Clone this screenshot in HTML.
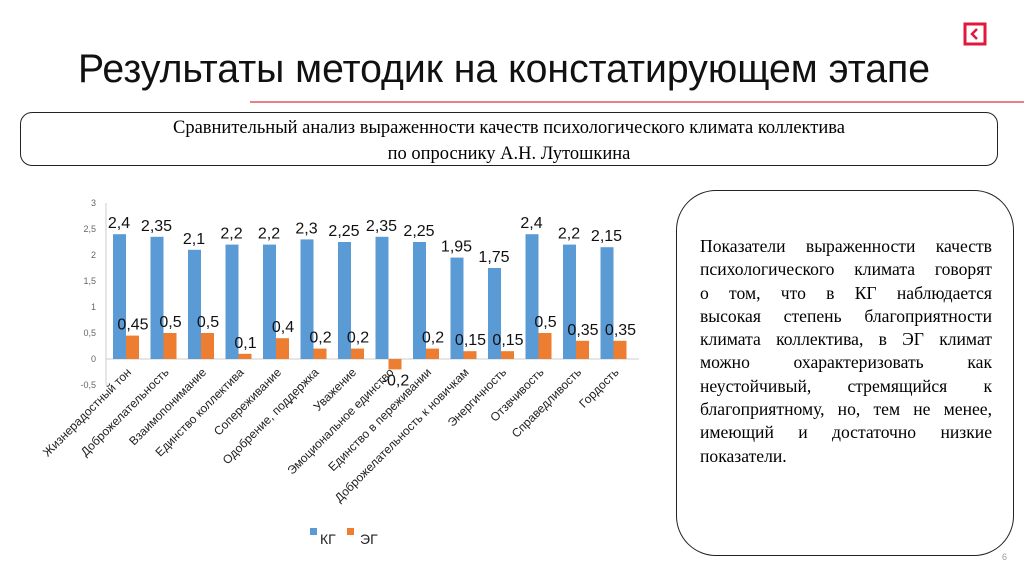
<!DOCTYPE html>
<html><head><meta charset="utf-8"><style>
body{margin:0;width:1024px;height:574px;background:#fff;overflow:hidden;position:relative;font-family:"Liberation Sans",sans-serif}
.box1{position:absolute;left:20px;top:112px;width:978px;height:54px;border:1.5px solid #222;border-radius:12px;font-family:"Liberation Serif",serif;font-size:18.5px;text-align:center;line-height:26px;padding-top:2px;box-sizing:border-box}
.box2{position:absolute;left:676px;top:190px;width:338px;height:366px;border:1.5px solid #222;border-radius:40px;box-sizing:border-box}
.box2 .t{position:absolute;left:23px;top:44px;width:292px;font-family:"Liberation Serif",serif;font-size:17.6px;line-height:23.3px;white-space:nowrap}
.box2 .t div{text-align:justify;text-align-last:justify}
.box2 .t div.last{text-align-last:left}
</style></head><body>
<svg width="1024" height="574" style="position:absolute;left:0;top:0">
<text x="78" y="82" font-family="'Liberation Sans Narrow','Liberation Sans',sans-serif" font-size="40" fill="#111" textLength="852" lengthAdjust="spacingAndGlyphs">Результаты методик на констатирующем этапе</text>
<line x1="250" y1="102" x2="1024" y2="102" stroke="#e03040" stroke-width="1.2"/>
<g><rect x="965" y="24" width="20" height="20" fill="none" stroke="#e0183c" stroke-width="3"/><path d="M977 29 L972 34 L977 39" fill="none" stroke="#e0183c" stroke-width="2.5"/></g>
<text x="1002" y="560" font-size="9" fill="#999">6</text>
<g id="chart"></g>
</svg>
<div class="box1">Сравнительный анализ выраженности качеств психологического климата коллектива<br>по опроснику А.Н. Лутошкина</div>
<div class="box2"><div class="t">
<div>Показатели выраженности качеств</div>
<div>психологического климата говорят</div>
<div>о том, что в КГ наблюдается</div>
<div>высокая степень благоприятности</div>
<div>климата коллектива, в ЭГ климат</div>
<div>можно охарактеризовать как</div>
<div>неустойчивый, стремящийся к</div>
<div>благоприятному, но, тем не менее,</div>
<div>имеющий и достаточно низкие</div>
<div class="last">показатели.</div>
</div></div>
<script>
const categories=["Жизнерадостный тон","Доброжелательность","Взаимопонимание","Единство коллектива","Сопереживание","Одобрение, поддержка","Уважение","Эмоциональное единство","Единство в переживании","Доброжелательность к новичкам","Энергичность","Отзвчивость","Справедливость","Гордость"];
const kgValues=[2.4,2.35,2.1,2.2,2.2,2.3,2.25,2.35,2.25,1.95,1.75,2.4,2.2,2.15];
const egValues=[0.45,0.5,0.5,0.1,0.4,0.2,0.2,-0.2,0.2,0.15,0.15,0.5,0.35,0.35];
const yTicks=[-0.5,0,0.5,1,1.5,2,2.5,3];
const NS="http://www.w3.org/2000/svg";
const g=document.getElementById("chart");
const x0=106,step=37.5;
const y=v=>359-v*52;
const fmt=v=>String(v).replace(".",",");
function mk(t,a,txt){const e=document.createElementNS(NS,t);for(const k in a)e.setAttribute(k,a[k]);if(txt!==undefined)e.textContent=txt;g.appendChild(e);return e;}
let e=mk("line",{x1:x0,y1:y(3),x2:x0,y2:y(-0.5),stroke:"#ccc"});


e=mk("line",{x1:x0,y1:y(0),x2:x0+step*categories.length+8,y2:y(0),stroke:"#ccc"});


yTicks.forEach(t=>{const el=mk("text",{x:96,y:y(t)+3,"text-anchor":"end","font-size":"9",fill:"#666"},fmt(t));

});
categories.forEach((c,i)=>{
const cx=x0+step*i;
const kv=kgValues[i],ev=egValues[i];
const b=mk("rect",{x:cx+7,y:Math.min(y(kv),y(0)),width:13,height:Math.abs(y(kv)-y(0)),fill:"#5b9bd5"});


const o=mk("rect",{x:cx+20,y:Math.min(y(ev),y(0)),width:13,height:Math.abs(y(ev)-y(0)),fill:"#ed7d31"});


const l1=mk("text",{x:cx+13,y:y(kv)-6,"text-anchor":"middle","font-size":"16",fill:"#111"},fmt(kv));


const ly=ev<0?y(ev)+16:y(ev)-6;
const l2=mk("text",{x:cx+27,y:ly,"text-anchor":"middle","font-size":"16",fill:"#111"},fmt(ev));


const cl=mk("text",{x:0,y:0,"text-anchor":"end","font-size":"12",fill:"#222",transform:`translate(${cx+26},${y(0)+14}) rotate(-45)`},c);


});
e=mk("rect",{x:310,y:528,width:7,height:7,fill:"#5b9bd5"});


e=mk("text",{x:320,y:544,"font-size":"14",fill:"#222"},"КГ");


e=mk("rect",{x:347,y:528,width:7,height:7,fill:"#ed7d31"});


e=mk("text",{x:360,y:544,"font-size":"14",fill:"#222"},"ЭГ");


</script>
</body></html>
